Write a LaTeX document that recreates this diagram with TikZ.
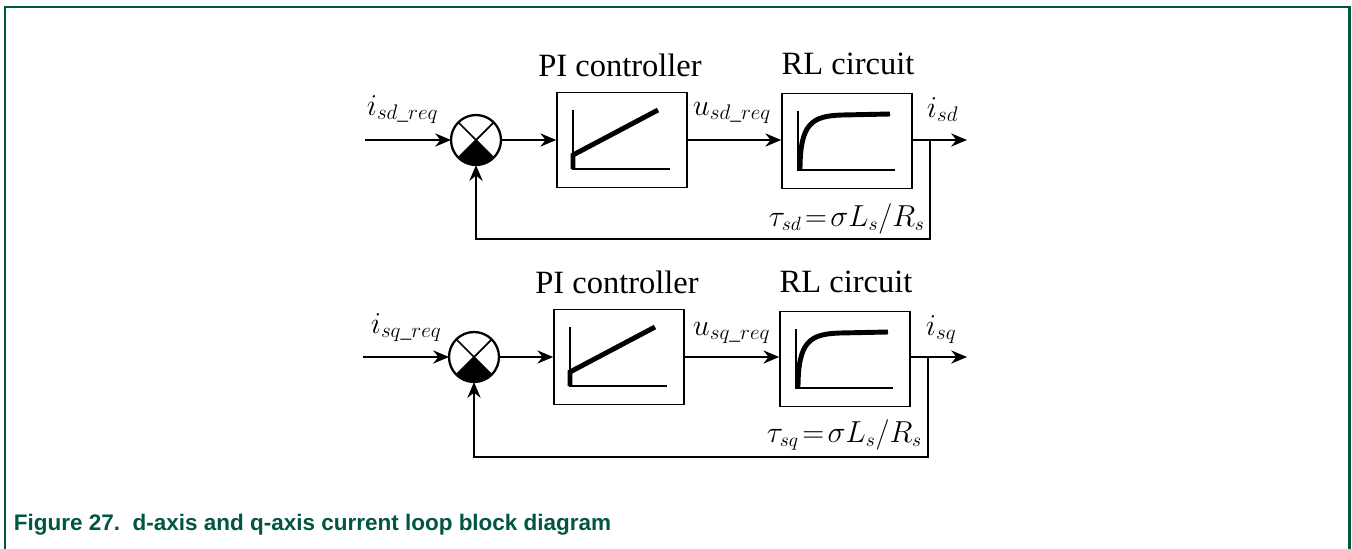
\documentclass[tikz,border=0pt]{standalone}
\usepackage{amsmath}
\usepackage{fontspec}
\setmainfont{Liberation Serif}
\newfontfamily\capfont{Liberation Sans}
\usetikzlibrary{arrows.meta,positioning}
\definecolor{figgreen}{RGB}{0,86,66}

\begin{document}
\begin{tikzpicture}[x=0.02cm,y=0.02cm,>={Stealth[length=9pt,width=7.5pt]},line width=1pt,
 blk/.style={draw,line width=0.9pt,minimum width=2.6cm,minimum height=1.9cm},
 sum/.style={draw,circle,line width=1.3pt,minimum size=1cm,inner sep=0pt,outer sep=0pt},
 every node/.style={font=\fontsize{18.5}{20}\selectfont},
 lab/.style={font=\fontsize{17.5}{18}\selectfont,inner sep=0pt,anchor=base west},
 ttl/.style={inner sep=0pt,anchor=base},
 curve/.style={line width=2.8pt}]
\useasboundingbox (0,0) rectangle (1352,-548);
\draw[figgreen,line width=1.7pt] (5,-560) -- (5,-7) -- (1349,-7) -- (1349,-560);
% d-axis loop
\node[sum] (sumd) at (476,-140) {};
\node[blk] (pid) at (622,-140) {};
\node[blk] (rld) at (847,-141) {};
\coordinate (ind) at (365,-140);
\coordinate (brd) at (930,-140);
\coordinate (fbd) at (930,-239);
\coordinate (outd) at (967,-140);
\node[ttl] (pitd) at (620,-76) {PI controller};
\node[ttl] (rltd) at (848,-74) {RL circuit};
\node[lab] (ireqd) at (366,-115) {$i_{sd\_req}$};
\node[lab] (ureqd) at (692,-115) {$u_{sd\_req}$};
\node[lab] (isd) at (926,-117) {$i_{sd}$};
\node[lab,font=\fontsize{16}{18}\selectfont] (taud) at (768,-226) {$\tau_{sd}\!=\!\sigma L_s/R_s$};
\fill (sumd.center) -- (sumd.-135) arc[start angle=-135,end angle=-45,radius=25] -- cycle;
\draw (sumd.45) -- (sumd.-135) (sumd.135) -- (sumd.-45);
\draw[->] (ind) -- (sumd);
\draw[->] (sumd) -- (pid);
\draw[->] (pid) -- (pid -| rld.west);
\draw[->] (pid -| rld.east) -- (outd);
\draw[->] (brd) -- (fbd) -| (sumd);
\begin{scope}[shift={(pid.center)}]
\draw (-49,30) |- (48,-29);
\draw[curve] (-49,-29) -- (-49,-15) -- (36,30);
\end{scope}
\begin{scope}[shift={(rld.center)}]
\draw (-49,30) |- (48,-29);
\draw[curve] (-47,-29) .. controls (-47,18) and (-35,25) .. (-5,26) -- (43,27);
\end{scope}
% q-axis loop
\node[sum] (sumq) at (474,-357) {};
\node[blk] (piq) at (619,-357) {};
\node[blk] (rlq) at (845,-359) {};
\coordinate (inq) at (363,-357);
\coordinate (brq) at (928,-357);
\coordinate (fbq) at (928,-457);
\coordinate (outq) at (967,-357);
\node[ttl] (pitq) at (617,-293) {PI controller};
\node[ttl] (rltq) at (846,-292) {RL circuit};
\node[lab] (ireqq) at (370,-333) {$i_{sq\_req}$};
\node[lab] (ureqq) at (692,-335) {$u_{sq\_req}$};
\node[lab] (isq) at (925,-335) {$i_{sq}$};
\node[lab,font=\fontsize{16}{18}\selectfont] (tauq) at (766,-442) {$\tau_{sq}\!=\!\sigma L_s/R_s$};
\fill (sumq.center) -- (sumq.-135) arc[start angle=-135,end angle=-45,radius=25] -- cycle;
\draw (sumq.45) -- (sumq.-135) (sumq.135) -- (sumq.-45);
\draw[->] (inq) -- (sumq);
\draw[->] (sumq) -- (piq);
\draw[->] (piq) -- (piq -| rlq.west);
\draw[->] (piq -| rlq.east) -- (outq);
\draw[->] (brq) -- (fbq) -| (sumq);
\begin{scope}[shift={(piq.center)}]
\draw (-49,30) |- (48,-29);
\draw[curve] (-49,-29) -- (-49,-15) -- (36,30);
\end{scope}
\begin{scope}[shift={(rlq.center)}]
\draw (-49,30) |- (48,-29);
\draw[curve] (-47,-29) .. controls (-47,18) and (-35,25) .. (-5,26) -- (43,27);
\end{scope}
\node[anchor=base west,inner sep=0pt,text=figgreen,font=\capfont\bfseries\fontsize{12.8}{15}\selectfont] (caption) at (13,-530) {Figure 27.\ \ d-axis and q-axis current loop block diagram};
\end{tikzpicture}
\end{document}
